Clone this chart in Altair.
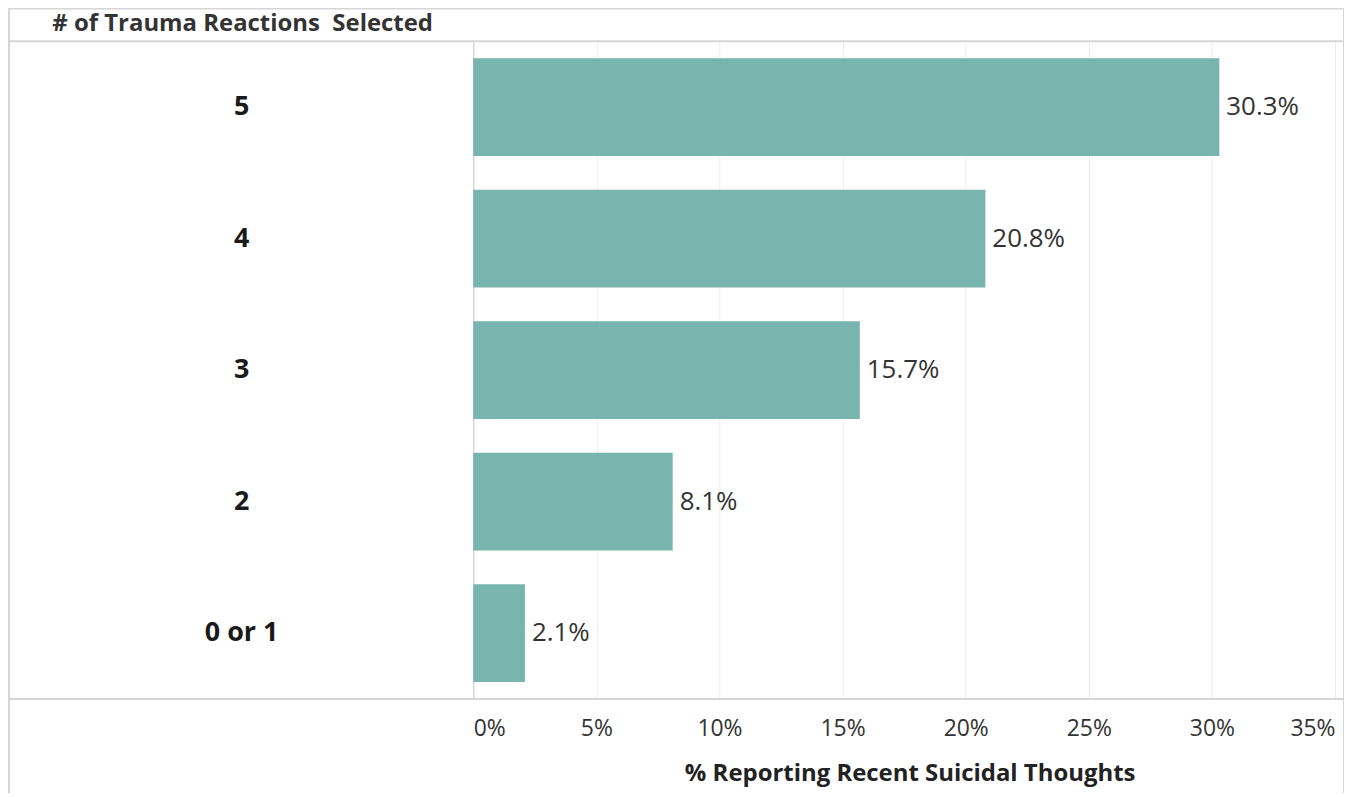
import altair as alt
import pandas as pd

categories = ["5", "4", "3", "2", "0 or 1"]
values = [30.3, 20.8, 15.7, 8.1, 2.1]
x_ticks = [0, 5, 10, 15, 20, 25, 30, 35]

df = pd.DataFrame({
    "group": categories,
    "pct": [v / 100 for v in values],
    "label": [f"{v:.1f}%" for v in values],
})

W, H = 865, 660
FONT = "Open Sans"
BORDER = "#d6d6d6"

y_enc = alt.Y(
    "group:N",
    sort=categories,
    scale=alt.Scale(paddingInner=0.258, paddingOuter=0.129),
    axis=alt.Axis(
        title="# of Trauma Reactions\u00a0\u00a0Selected",
        titleAngle=0,
        titleAlign="left",
        titleBaseline="middle",
        titleX=-423,
        titleY=-18,
        titleFont=FONT,
        titleFontSize=24,
        titleFontWeight="bold",
        titleColor="#333333",
        labelFont=FONT,
        labelFontSize=27,
        labelFontWeight="bold",
        labelColor="#1a1a1a",
        labelAlign="center",
        labelBaseline="middle",
        labelPadding=233,
        labelLimit=400,
        ticks=False,
        tickSize=0,
        domain=True,
        domainColor="#cccccc",
        domainWidth=1,
        grid=False,
    ),
)

x_enc = alt.X(
    "pct:Q",
    scale=alt.Scale(domain=[0, 0.35], nice=False),
    axis=alt.Axis(
        values=[t / 100 for t in x_ticks],
        format=".0%",
        title="% Reporting Recent Suicidal Thoughts",
        titleFont=FONT,
        titleFontSize=24,
        titleFontWeight="bold",
        titleColor="#222222",
        titlePadding=21,
        titleX=438,
        labelFont=FONT,
        labelFontSize=23,
        labelColor="#333333",
        labelFlush=True,
        labelPadding=19,
        ticks=False,
        domain=False,
        grid=True,
        gridColor="#ececec",
        gridWidth=1,
    ),
)

bars = alt.Chart(df).mark_bar(color="#78B5AE").encode(x=x_enc, y=y_enc)

labels = alt.Chart(df).mark_text(
    align="left", baseline="middle", dx=7, font=FONT, fontSize=26, color="#333333"
).encode(x="pct:Q", y=alt.Y("group:N", sort=categories), text="label:N")

def hrule(y, x1, x2):
    return alt.Chart(pd.DataFrame({"k": [0]})).mark_rule(
        color=BORDER, strokeWidth=2, clip=False
    ).encode(x=alt.value(x1), x2=alt.value(x2), y=alt.value(y))

def vrule(x, y1, y2):
    return alt.Chart(pd.DataFrame({"k": [0]})).mark_rule(
        color=BORDER, strokeWidth=2, clip=False
    ).encode(x=alt.value(x), y=alt.value(y1), y2=alt.value(y2))

frame = [
    hrule(-33, -467, 875),
    hrule(0, -467, 875),
    hrule(660, -467, 875),
    vrule(-466, -33, 760),
    vrule(874, -33, 760),
]

chart = alt.layer(bars, labels, *frame).properties(
    width=W,
    height=H,
    autosize=alt.AutoSizeParams(type="none"),
    padding={"left": 467, "top": 32, "right": 9, "bottom": 93},
).configure_view(stroke=None)

chart.save("out.html", embed_options={"renderer": "svg", "actions": False})
